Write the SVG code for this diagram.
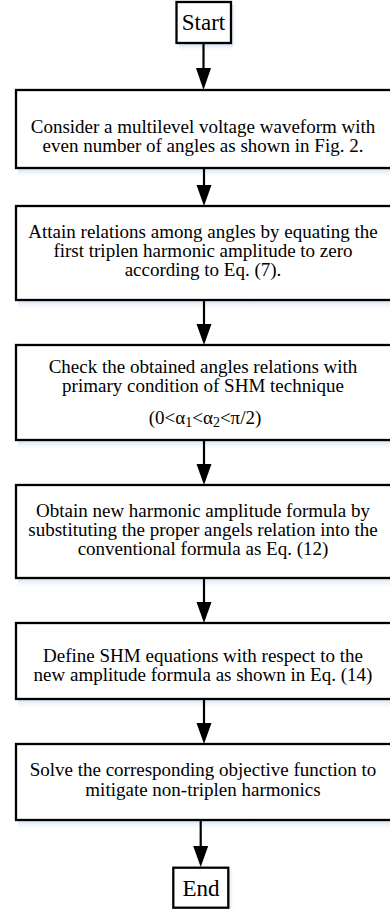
<svg xmlns="http://www.w3.org/2000/svg" width="390" height="911" viewBox="0 0 390 911">
<defs>
<linearGradient id="sh" x1="0" y1="0" x2="0" y2="1">
<stop offset="0" stop-color="#cfdff0"/>
<stop offset="1" stop-color="#ffffff" stop-opacity="0"/>
</linearGradient>
<linearGradient id="shr" x1="0" y1="0" x2="1" y2="0">
<stop offset="0" stop-color="#dfe8f3"/>
<stop offset="1" stop-color="#ffffff" stop-opacity="0"/>
</linearGradient>
</defs>
<style>
.box{fill:#fff;stroke:#000;stroke-width:2.3}
.sh{fill:url(#sh)}
.shr{fill:url(#shr)}
text{font-family:"Liberation Serif","Times New Roman",serif;font-size:19px;fill:#000;text-anchor:middle}
.big{font-size:23px}
.ln{stroke:#000;stroke-width:2.2;fill:none}
.ah{fill:#000}
</style>
<rect width="390" height="911" fill="#fff"/>
<g id="start">
<rect class="sh" x="179" y="44" width="54" height="8"/>
<rect class="shr" x="232" y="5" width="6" height="40"/>
<rect class="box" x="176.5" y="2" width="54.5" height="41"/>
<text class="big" x="203.5" y="30">Start</text>
</g>
<g id="n1">
<rect class="sh" x="18" y="168" width="380" height="11"/>
<rect class="box" x="16" y="90" width="380" height="78"/>
<text x="203" y="133">Consider a multilevel voltage waveform with</text>
<text x="203" y="152">even number of angles as shown in Fig. 2.</text>
</g>
<g id="n2">
<rect class="sh" x="18" y="300" width="380" height="11"/>
<rect class="box" x="16" y="206" width="380" height="94"/>
<text x="203" y="238">Attain relations among angles by equating the</text>
<text x="203" y="257">first triplen harmonic amplitude to zero</text>
<text x="203" y="276">according to Eq. (7).</text>
</g>
<g id="n3">
<rect class="sh" x="18" y="440" width="380" height="11"/>
<rect class="box" x="16" y="345" width="380" height="95"/>
<text x="203" y="373">Check the obtained angles relations with</text>
<text x="203" y="392">primary condition of SHM technique</text>
<text x="205" y="424">(0&lt;α<tspan font-size="14" dy="3">1</tspan><tspan dy="-3">&lt;α</tspan><tspan font-size="14" dy="3">2</tspan><tspan dy="-3">&lt;π/2)</tspan></text>
</g>
<g id="n4">
<rect class="sh" x="18" y="578" width="380" height="11"/>
<rect class="box" x="16" y="485" width="380" height="93"/>
<text x="203" y="517">Obtain new harmonic amplitude formula by</text>
<text x="203" y="536">substituting the proper angels relation into the</text>
<text x="203" y="555">conventional formula as Eq. (12)</text>
</g>
<g id="n5">
<rect class="sh" x="18" y="699" width="380" height="11"/>
<rect class="box" x="16" y="623" width="380" height="76"/>
<text x="203" y="662">Define SHM equations with respect to the</text>
<text x="203" y="681">new amplitude formula as shown in Eq. (14)</text>
</g>
<g id="n6">
<rect class="sh" x="18" y="820" width="380" height="11"/>
<rect class="box" x="16" y="744" width="380" height="76"/>
<text x="203" y="776">Solve the corresponding objective function to</text>
<text x="203" y="796">mitigate non-triplen harmonics</text>
</g>
<g id="end">
<rect class="shr" x="229" y="871" width="6" height="38"/>
<rect class="box" x="173.3" y="867.7" width="55" height="40"/>
<text class="big" x="201" y="896">End</text>
</g>
<g id="connectors">
<line class="ln" x1="203.5" y1="43" x2="203.5" y2="70"/>
<polygon class="ah" points="196,68 211,68 203.5,90"/>
<line class="ln" x1="204" y1="168" x2="204" y2="187"/>
<polygon class="ah" points="196.5,185 211.5,185 204,206"/>
<line class="ln" x1="204" y1="300" x2="204" y2="326"/>
<polygon class="ah" points="196.5,324 211.5,324 204,345"/>
<line class="ln" x1="204" y1="440" x2="204" y2="466"/>
<polygon class="ah" points="196.5,464 211.5,464 204,485"/>
<line class="ln" x1="204" y1="578" x2="204" y2="604"/>
<polygon class="ah" points="196.5,602 211.5,602 204,623"/>
<line class="ln" x1="204" y1="699" x2="204" y2="725"/>
<polygon class="ah" points="196.5,723 211.5,723 204,744"/>
<line class="ln" x1="200.7" y1="820" x2="200.7" y2="848"/>
<polygon class="ah" points="193.2,846 208.2,846 200.7,867"/>
</g>
</svg>
